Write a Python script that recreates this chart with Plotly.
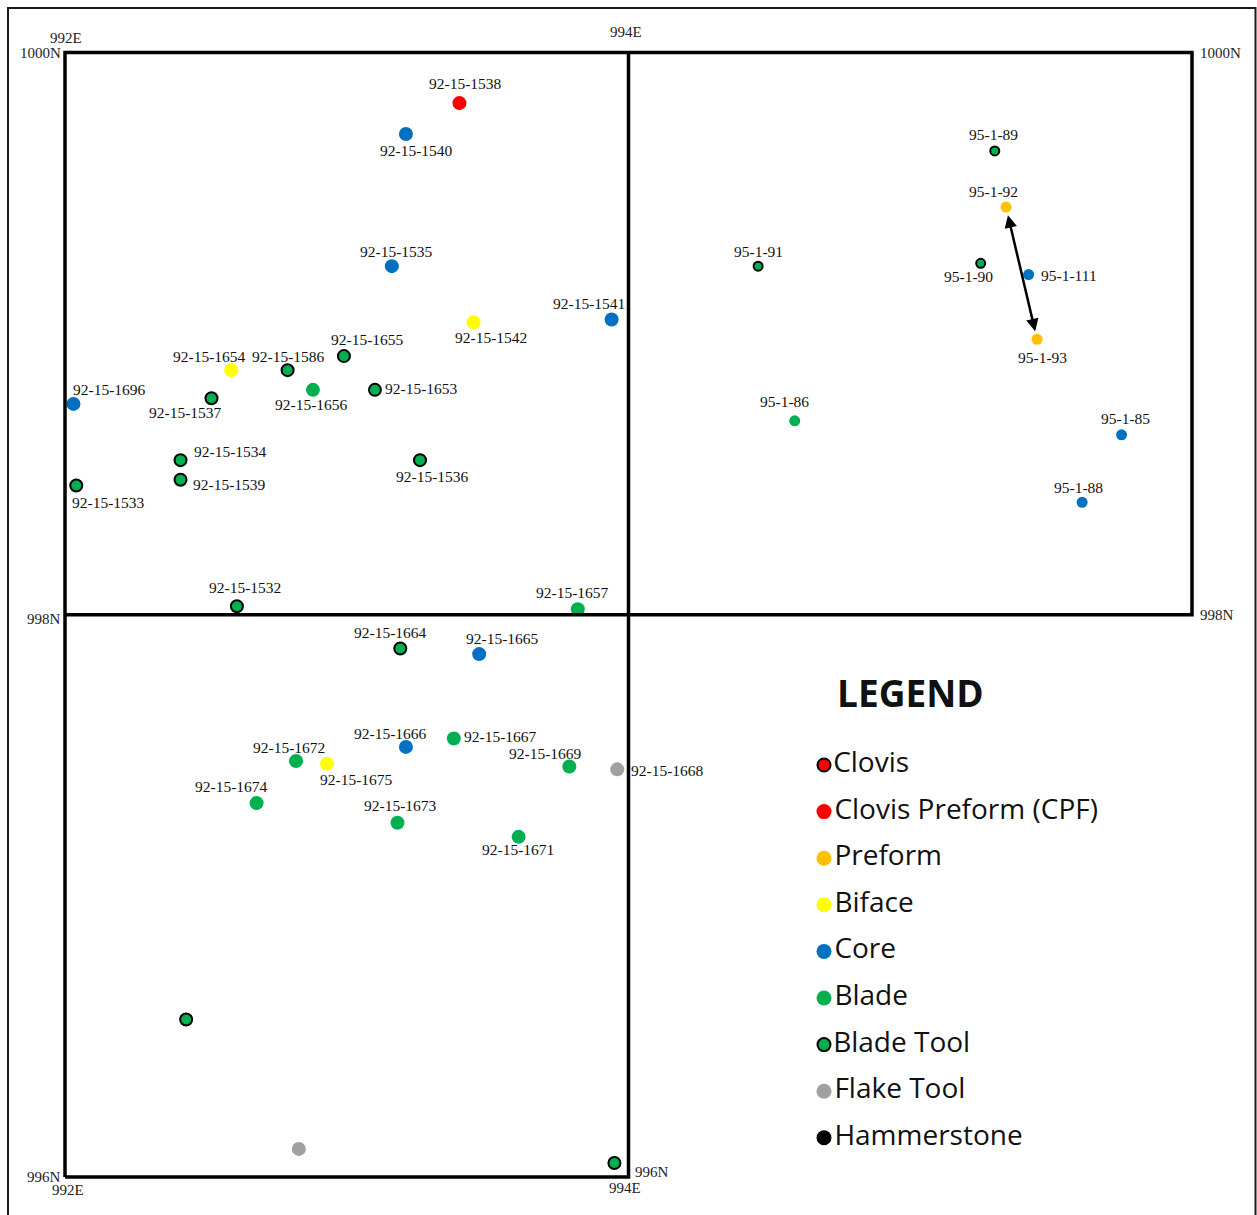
import plotly.graph_objects as go

# ---------------- data (grid coordinates: metres East / North) ----------------
CATEGORIES = ["Clovis", "Clovis Preform (CPF)", "Preform", "Biface", "Core",
              "Blade", "Blade Tool", "Flake Tool", "Hammerstone"]

ids = ["92-15-1538", "92-15-1540", "92-15-1535", "92-15-1541", "92-15-1542",
       "92-15-1655", "92-15-1654", "92-15-1586", "92-15-1656", "92-15-1653",
       "92-15-1696", "92-15-1537", "92-15-1534", "92-15-1539", "92-15-1533",
       "92-15-1536", "92-15-1532", "92-15-1657", "92-15-1664", "92-15-1665",
       "92-15-1666", "92-15-1667", "92-15-1669", "92-15-1668", "92-15-1672",
       "92-15-1675", "92-15-1674", "92-15-1673", "92-15-1671", "",
       "", "", "95-1-89", "95-1-92", "95-1-91",
       "95-1-90", "95-1-111", "95-1-93", "95-1-86", "95-1-85",
       "95-1-88"]
east = [993.40, 993.21, 993.16, 993.94, 993.45,
        992.99, 992.59, 992.79, 992.88, 993.10,
        992.03, 992.52, 992.41, 992.41, 992.04,
        993.26, 992.61, 993.82, 993.19, 993.47,
        993.21, 993.38, 993.79, 993.96, 992.82,
        992.93, 992.68, 993.18, 993.61, 992.43,
        992.83, 993.95, 995.30, 995.34, 994.46,
        995.25, 995.42, 995.45, 994.59, 995.75,
        995.61]
north = [999.82, 999.71, 999.24, 999.05, 999.04,
         998.92, 998.87, 998.87, 998.80, 998.80,
         998.75, 998.77, 998.55, 998.48, 998.46,
         998.55, 998.03, 998.02, 997.88, 997.86,
         997.53, 997.56, 997.46, 997.45, 997.48,
         997.47, 997.33, 997.26, 997.21, 996.56,
         996.10, 996.05, 999.65, 999.45, 999.24,
         999.25, 999.21, 998.98, 998.69, 998.64,
         998.40]
cats = ["Clovis Preform (CPF)", "Core", "Core", "Core", "Biface",
        "Blade Tool", "Biface", "Blade Tool", "Blade", "Blade Tool",
        "Core", "Blade Tool", "Blade Tool", "Blade Tool", "Blade Tool",
        "Blade Tool", "Blade Tool", "Blade", "Blade Tool", "Core",
        "Core", "Blade", "Blade", "Flake Tool", "Blade",
        "Biface", "Blade", "Blade", "Blade", "Blade Tool",
        "Flake Tool", "Blade Tool", "Blade Tool", "Preform", "Blade Tool",
        "Blade Tool", "Core", "Preform", "Blade", "Core",
        "Core"]

grid_e = [992, 994, 996]
grid_n = [996, 998, 1000]

# ---------------- styles ----------------
GREEN = "#00B050"
FILL = {"Clovis": "#FF0000", "Clovis Preform (CPF)": "#FF0000", "Preform": "#FFC000",
        "Biface": "#FFFF00", "Core": "#0070C0", "Blade": GREEN, "Blade Tool": GREEN,
        "Flake Tool": "#A0A0A0", "Hammerstone": "#000000"}
OUTLINED = {"Clovis", "Blade Tool"}

# label offset from its point (pixels: right, down)
LABEL_OFFSET = {
    "92-15-1538": (6, -20), "92-15-1540": (11, 16), "92-15-1535": (5, -15),
    "92-15-1541": (-23, -16), "92-15-1542": (17, 15), "92-15-1655": (24, -17),
    "92-15-1654": (-22, -14), "92-15-1586": (1, -14), "92-15-1656": (-1, 15),
    "92-15-1653": (47, -1), "92-15-1696": (36, -14), "92-15-1537": (-26, 14),
    "92-15-1534": (50, -9), "92-15-1539": (49, 5), "92-15-1533": (32, 17),
    "92-15-1536": (12, 16), "92-15-1532": (8, -19), "92-15-1657": (-5, -17),
    "92-15-1664": (-10, -16), "92-15-1665": (23, -16), "92-15-1666": (-15, -13),
    "92-15-1667": (47, -2), "92-15-1669": (-24, -13), "92-15-1668": (50, 1),
    "92-15-1672": (-7, -13), "92-15-1675": (29, 16), "92-15-1674": (-25, -17),
    "92-15-1673": (3, -17), "92-15-1671": (-1, 13),
    "95-1-89": (-1, -16), "95-1-92": (-13, -16), "95-1-91": (0, -15),
    "95-1-90": (-12, 13), "95-1-111": (40, 1), "95-1-93": (5, 18),
    "95-1-86": (-10, -19), "95-1-85": (4, -16), "95-1-88": (-4, -15),
}

SERIF = "Liberation Serif, Times New Roman, serif"
SANS = "Open Sans, Noto Sans, sans-serif"
W, H = 1257, 1215
PX_X = 281.75   # pixels per metre east
PX_Y = 281.125  # pixels per metre north
X_RANGE = [992 - 65 / PX_X, 996 + (W - 1192) / PX_X]
Y_RANGE = [996 - (H - 1177) / PX_Y, 1000 + 52.5 / PX_Y]

fig = go.Figure()


def marker_style(cat, size):
    m = dict(color=FILL[cat], size=size, opacity=1)
    if cat in OUTLINED:
        m["size"] = size - 2
        m["line"] = dict(color="black", width=2)
    else:
        m["line"] = dict(width=0)
    return m


# ---------------- artefact points ----------------
for cat in CATEGORIES:
    for season, size in (("92", 14), ("95", 11)):
        sel = [i for i in range(len(ids)) if cats[i] == cat and
               (ids[i].startswith(season) or (ids[i] == "" and season == "92"))]
        if not sel:
            continue
        fig.add_trace(go.Scatter(
            x=[east[i] for i in sel], y=[north[i] for i in sel],
            mode="markers", marker=marker_style(cat, size),
            text=[ids[i] for i in sel],
            name=cat, showlegend=False, hoverinfo="text+name",
        ))

# point labels
for i, lab in enumerate(ids):
    if not lab:
        continue
    dx, dy = LABEL_OFFSET.get(lab, (0, -15))
    fig.add_annotation(x=east[i], y=north[i], xref="x", yref="y", text=lab,
                       showarrow=False, xanchor="center", yanchor="middle",
                       xshift=dx, yshift=-dy,
                       font=dict(family=SERIF, size=15.5, color="#111111"))

# ---------------- grid ----------------
e0, e1, e2 = grid_e
n0, n1, n2 = grid_n
fig.add_shape(type="path", xref="x", yref="y",
              path=f"M {e0},{n0} L {e0},{n2} L {e2},{n2} L {e2},{n1} L {e0},{n1}",
              line=dict(color="black", width=3.5))
fig.add_shape(type="path", xref="x", yref="y",
              path=f"M {e1},{n2} L {e1},{n0} L {e0},{n0}",
              line=dict(color="black", width=3.5))
# outer frame
fig.add_shape(type="rect", xref="paper", yref="paper",
              x0=8 / W, x1=1255.5 / W, y0=-0.02, y1=1 - 8 / H,
              line=dict(color="#1a1a1a", width=2))

# grid labels
def glabel(txt, x, y, xa, ya, xs=0, ys=0):
    fig.add_annotation(x=x, y=y, xref="x", yref="y", text=txt, showarrow=False,
                       xanchor=xa, yanchor=ya, xshift=xs, yshift=ys,
                       font=dict(family=SERIF, size=15, color="#222222"))

glabel(f"{e0}E", e0, n2, "center", "bottom", 1, 5)
glabel(f"{n2}N", e0, n2, "right", "middle", -2, 0)
glabel(f"{e1}E", e1, n2, "center", "bottom", -3, 11)
glabel(f"{n2}N", e2, n2, "left", "middle", 6, 0)
glabel(f"{n1}N", e0, n1, "right", "middle", -2, -4)
glabel(f"{n1}N", e2, n1, "left", "middle", 6, 0)
glabel(f"{n0}N", e0, n0, "right", "middle", -2, 0)
glabel(f"{e0}E", e0, n0, "center", "top", 3, -3)
glabel(f"{e1}E", e1, n0, "center", "top", -4, -1)
glabel(f"{n0}N", e1, n0, "left", "middle", 4, 5)

# ---------------- refit arrow between the two preform pieces ----------------
a = ids.index("95-1-92")
b = ids.index("95-1-93")
def lerp(t):
    return east[a] + (east[b] - east[a]) * t, north[a] + (north[b] - north[a]) * t
(sx, sy), (tx, ty) = lerp(0.05), lerp(0.94)
fig.add_annotation(x=tx, y=ty, ax=sx, ay=sy, xref="x", yref="y", axref="x", ayref="y",
                   text="", showarrow=True, arrowhead=2, startarrowhead=2,
                   arrowside="end+start", arrowwidth=2.5, arrowsize=1,
                   startarrowsize=1, arrowcolor="black")

# ---------------- legend (drawn in map space) ----------------
LEG_X = 992 + (824 - 65) / PX_X
LEG_Y0 = Y_RANGE[1] - 765 / PX_Y
LEG_DY = 46.6 / PX_Y
for k, cat in enumerate(CATEGORIES):
    fig.add_trace(go.Scatter(
        x=[LEG_X], y=[LEG_Y0 - k * LEG_DY], mode="markers+text",
        text=[cat], textposition="middle right",
        textfont=dict(family=SANS, size=28, color="#111111"),
        marker=marker_style(cat, 15), showlegend=False, hoverinfo="skip"))
fig.add_annotation(x=910 / W, y=1 - 692 / H, xref="paper", yref="paper",
                   text="<b>LEGEND</b>", showarrow=False, xanchor="center", yanchor="middle",
                   font=dict(family=SANS, size=37, color="#111111"))

fig.update_xaxes(range=X_RANGE, visible=False, fixedrange=True)
fig.update_yaxes(range=Y_RANGE, visible=False, fixedrange=True)
fig.update_layout(width=W, height=H, margin=dict(l=0, r=0, t=0, b=0, pad=0),
                  paper_bgcolor="white", plot_bgcolor="white", showlegend=False)

fig.write_html("out.html", config={"displayModeBar": False},
               post_script="document.body.style.margin='0';document.body.style.overflow='hidden';")
